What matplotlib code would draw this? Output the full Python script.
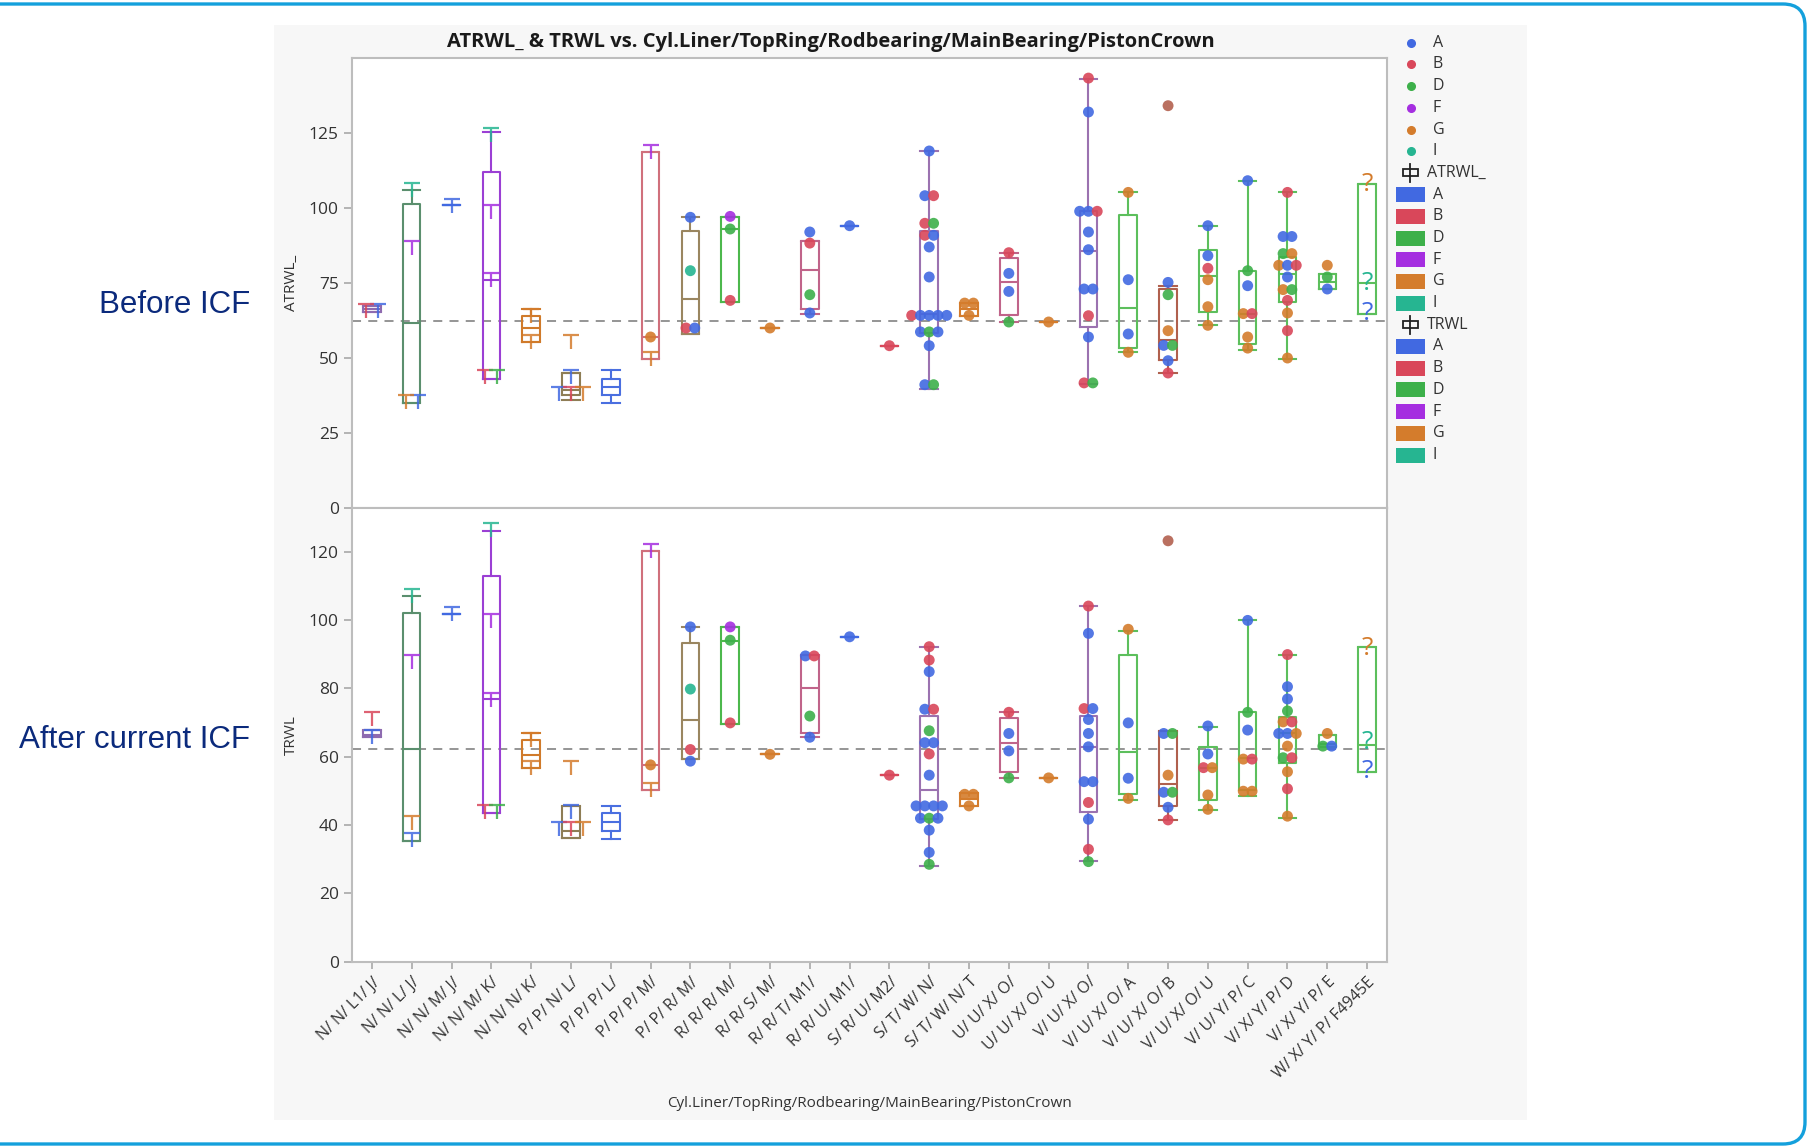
import numpy as np
import matplotlib.pyplot as plt
from collections import Counter
from matplotlib.path import Path
from matplotlib.markers import MarkerStyle
from matplotlib.patches import Rectangle, FancyBboxPatch
from matplotlib.lines import Line2D

plt.rcParams['font.family'] = ['Open Sans', 'DejaVu Sans']

cats = ["N/ N/ L1/ J/", "N/ N/ L/ J/", "N/ N/ M/ J/", "N/ N/ M/ K/", "N/ N/ N/ K/",
        "P/ P/ N/ L/", "P/ P/ P/ L/", "P/ P/ P/ M/", "P/ P/ R/ M/", "R/ R/ R/ M/",
        "R/ R/ S/ M/", "R/ R/ T/ M1/", "R/ R/ U/ M1/", "S/ R/ U/ M2/", "S/ T/ W/ N/",
        "S/ T/ W/ N/ T", "U/ U/ X/ O/", "U/ U/ X/ O/ U", "V/ U/ X/ O/", "V/ U/ X/ O/ A",
        "V/ U/ X/ O/ B", "V/ U/ X/ O/ U", "V/ U/ Y/ P/ C", "V/ X/ Y/ P/ D", "V/ X/ Y/ P/ E",
        "W/ X/ Y/ P/ F4945E"]

groups = ['A', 'B', 'D', 'F', 'G', 'I']
group_colors = {'A': '#4169e1', 'B': '#d9475a', 'D': '#3db04a', 'F': '#a52ee0',
                'G': '#d47c2c', 'I': '#26b591', 'BG': '#b3604f'}

ref_level = 62.3

# ATRWL_ box statistics per category
atrwl_q1 = [65.5, 35.0, 101.0, 43.0, 55.5, 37.8, 37.8, 49.8, 58.1, 68.7, 60.0, 66.3, 94.1,
            54.1, 58.5, 63.9, 64.2, 62.0, 60.5, 53.2, 49.4, 65.3, 54.7, 68.7, 73.0, 64.8]
atrwl_med = [66.3, 61.7, 101.0, 76.1, 60.0, 39.4, 40.5, 57.0, 69.8, 93.0, 60.0, 79.4, 94.1,
             54.1, 64.8, 66.3, 75.2, 62.0, 85.8, 66.8, 56.1, 77.4, 64.8, 78.0, 75.2, 75.0]
atrwl_q3 = [67.2, 101.3, 101.0, 111.9, 63.9, 45.0, 43.0, 118.7, 92.5, 96.9, 60.0, 88.9, 94.1,
            54.1, 92.2, 68.5, 83.3, 62.0, 98.9, 97.8, 73.0, 86.1, 78.9, 83.7, 78.0, 108.0]
atrwl_lo = [65.5, 35.0, 101.0, 43.0, 55.5, 36.1, 35.0, 49.8, 58.1, 68.7, 60.0, 64.8, 94.1,
            54.1, 39.7, 63.9, 62.0, 62.0, 41.4, 51.9, 45.0, 60.9, 52.8, 49.8, 73.0, 64.8]
atrwl_hi = [67.2, 106.1, 101.0, 125.2, 66.3, 45.0, 45.9, 118.7, 96.9, 96.9, 60.0, 88.9, 94.1,
            54.1, 118.9, 68.5, 85.0, 62.0, 143.0, 105.2, 73.9, 94.1, 109.1, 105.2, 78.0, 108.0]

# TRWL box statistics per category
trwl_q1 = [65.7, 35.4, 101.9, 43.6, 56.6, 36.3, 38.3, 50.2, 59.2, 69.5, 60.7, 67.0, 95.1,
           54.6, 41.8, 45.6, 55.4, 53.8, 43.9, 49.0, 45.7, 47.3, 50.2, 58.3, 62.7, 55.4]
trwl_med = [66.5, 62.4, 101.9, 76.8, 60.5, 38.3, 41.0, 57.6, 70.7, 93.8, 60.7, 80.2, 95.1,
            54.6, 50.4, 47.6, 63.9, 53.8, 62.7, 61.4, 52.0, 56.8, 59.5, 66.8, 63.6, 63.4]
trwl_q3 = [67.8, 102.2, 101.9, 112.9, 64.9, 45.6, 43.6, 120.2, 93.4, 98.0, 60.7, 89.9, 95.1,
           54.6, 71.9, 49.5, 71.2, 53.8, 71.9, 89.9, 67.5, 62.7, 73.0, 71.7, 66.5, 92.2]
trwl_lo = [65.7, 35.4, 101.9, 43.6, 56.6, 36.3, 35.8, 50.2, 59.2, 69.5, 60.7, 65.7, 95.1,
           54.6, 28.1, 45.6, 53.8, 53.8, 29.6, 47.3, 41.5, 44.4, 48.6, 42.2, 62.7, 55.4]
trwl_hi = [67.8, 107.0, 101.9, 126.1, 67.0, 45.6, 45.6, 120.2, 98.0, 98.0, 60.7, 89.9, 95.1,
           54.6, 92.2, 49.5, 73.0, 53.8, 104.1, 96.8, 67.5, 68.8, 99.9, 89.9, 66.5, 92.2]

box_colors = ['#8e6bb0', '#5b8f6e', '#4169e1', '#9b3fd4', '#d07a2a', '#8e7d55', '#4a6fe0',
              '#d0707c', '#9a8660', '#4cb84c', '#d47c2c', '#c0648a', '#4169e1', '#d9475a',
              '#9b72b0', '#d47c2c', '#c0648a', '#d47c2c', '#9b72b0', '#5cbf5c', '#b0604e',
              '#5cbf5c', '#5cbf5c', '#5cbf5c', '#5cbf5c', '#5cbf5c']

# individual measurements (category, value, group)
atrwl_points = [
    (7, 57.0, 'G'),
    (8, 96.9, 'A'), (8, 79.1, 'I'), (8, 60.0, 'B'), (8, 60.0, 'A'),
    (9, 97.2, 'F'), (9, 93.0, 'D'), (9, 69.2, 'B'),
    (10, 60.0, 'G'),
    (11, 92.0, 'A'), (11, 88.3, 'B'), (11, 71.1, 'D'), (11, 65.0, 'A'),
    (12, 94.1, 'A'),
    (13, 54.1, 'B'),
    (14, 119.0, 'A'), (14, 104.1, 'A'), (14, 104.1, 'B'), (14, 94.9, 'B'), (14, 94.9, 'D'),
    (14, 90.9, 'B'), (14, 90.9, 'A'), (14, 87.0, 'A'), (14, 77.0, 'A'),
    (14, 64.2, 'B'), (14, 64.2, 'A'), (14, 64.2, 'A'), (14, 64.2, 'A'), (14, 64.2, 'A'),
    (14, 58.7, 'A'), (14, 58.7, 'D'), (14, 58.7, 'A'), (14, 54.1, 'A'),
    (14, 41.1, 'A'), (14, 41.1, 'D'),
    (15, 68.3, 'G'), (15, 68.3, 'G'), (15, 64.2, 'G'),
    (16, 85.1, 'B'), (16, 78.2, 'A'), (16, 72.2, 'A'), (16, 62.0, 'D'),
    (17, 62.0, 'G'),
    (18, 143.3, 'B'), (18, 132.0, 'A'), (18, 98.9, 'A'), (18, 98.9, 'A'), (18, 98.9, 'B'),
    (18, 92.0, 'A'), (18, 86.1, 'A'), (18, 73.0, 'A'), (18, 73.0, 'A'), (18, 64.1, 'B'),
    (18, 57.0, 'A'), (18, 41.7, 'B'), (18, 41.7, 'D'),
    (19, 105.2, 'G'), (19, 76.1, 'A'), (19, 58.0, 'A'), (19, 51.9, 'G'),
    (20, 134.1, 'BG'), (20, 75.2, 'A'), (20, 71.1, 'D'), (20, 59.1, 'G'), (20, 54.2, 'A'),
    (20, 54.2, 'D'), (20, 49.1, 'A'), (20, 45.0, 'B'),
    (21, 94.1, 'A'), (21, 84.1, 'A'), (21, 79.9, 'B'), (21, 76.1, 'G'), (21, 67.1, 'G'),
    (21, 60.9, 'G'),
    (22, 109.1, 'A'), (22, 79.1, 'D'), (22, 74.1, 'A'), (22, 64.8, 'G'), (22, 64.8, 'B'),
    (22, 57.0, 'G'), (22, 53.3, 'G'),
    (23, 105.2, 'B'), (23, 90.5, 'A'), (23, 90.5, 'A'), (23, 84.8, 'D'), (23, 84.8, 'G'),
    (23, 80.9, 'G'), (23, 80.9, 'A'), (23, 80.9, 'B'), (23, 77.0, 'A'), (23, 72.8, 'G'),
    (23, 72.8, 'D'), (23, 69.2, 'B'), (23, 65.0, 'G'), (23, 59.1, 'B'), (23, 50.0, 'G'),
    (24, 80.9, 'G'), (24, 77.0, 'D'), (24, 73.0, 'A'),
]

trwl_points = [
    (7, 57.6, 'G'),
    (8, 98.0, 'A'), (8, 79.8, 'I'), (8, 62.1, 'B'), (8, 58.7, 'A'),
    (9, 98.0, 'F'), (9, 94.1, 'D'), (9, 69.9, 'B'),
    (10, 60.7, 'G'),
    (11, 89.5, 'A'), (11, 89.5, 'B'), (11, 71.9, 'D'), (11, 65.7, 'A'),
    (12, 95.1, 'A'),
    (13, 54.6, 'B'),
    (14, 92.2, 'B'), (14, 88.3, 'B'), (14, 84.9, 'A'), (14, 73.9, 'A'), (14, 73.9, 'B'),
    (14, 67.6, 'D'), (14, 64.1, 'A'), (14, 64.1, 'A'), (14, 60.8, 'B'), (14, 54.6, 'A'),
    (14, 45.6, 'A'), (14, 45.6, 'A'), (14, 45.6, 'A'), (14, 45.6, 'A'),
    (14, 42.0, 'A'), (14, 42.0, 'D'), (14, 42.0, 'A'),
    (14, 38.5, 'A'), (14, 32.0, 'A'), (14, 28.5, 'D'),
    (15, 49.0, 'G'), (15, 49.0, 'G'), (15, 45.6, 'G'),
    (16, 73.0, 'B'), (16, 66.8, 'A'), (16, 61.7, 'A'), (16, 53.8, 'D'),
    (17, 53.8, 'G'),
    (18, 104.1, 'B'), (18, 96.1, 'A'), (18, 74.1, 'B'), (18, 74.1, 'A'), (18, 70.9, 'A'),
    (18, 66.8, 'A'), (18, 62.9, 'A'), (18, 52.7, 'A'), (18, 52.7, 'A'), (18, 46.6, 'B'),
    (18, 41.7, 'A'), (18, 32.9, 'B'), (18, 29.3, 'D'),
    (19, 97.3, 'G'), (19, 69.9, 'A'), (19, 53.7, 'A'), (19, 47.8, 'G'),
    (20, 123.2, 'BG'), (20, 66.8, 'A'), (20, 66.8, 'D'), (20, 54.6, 'G'), (20, 49.6, 'A'),
    (20, 49.6, 'D'), (20, 45.2, 'A'), (20, 41.5, 'B'),
    (21, 69.0, 'A'), (21, 60.8, 'A'), (21, 56.8, 'B'), (21, 56.8, 'G'), (21, 48.8, 'G'),
    (21, 44.6, 'G'),
    (22, 99.9, 'A'), (22, 73.0, 'D'), (22, 67.8, 'A'), (22, 59.3, 'G'), (22, 59.3, 'B'),
    (22, 49.9, 'G'), (22, 49.9, 'G'),
    (23, 89.9, 'B'), (23, 80.5, 'A'), (23, 76.9, 'A'), (23, 73.4, 'D'), (23, 70.2, 'G'),
    (23, 70.2, 'B'), (23, 66.8, 'A'), (23, 66.8, 'A'), (23, 66.8, 'G'), (23, 63.1, 'G'),
    (23, 59.7, 'D'), (23, 59.7, 'B'), (23, 55.6, 'G'), (23, 50.6, 'B'), (23, 42.6, 'G'),
    (24, 66.8, 'G'), (24, 63.1, 'D'), (24, 63.1, 'A'),
]

# small per-group summaries drawn as T marks
atrwl_tees = [
    (0, 68.0, 'B'), (0, 68.0, 'A'),
    (1, 108.3, 'I'), (1, 88.9, 'F'), (1, 37.8, 'G'), (1, 37.8, 'A'),
    (2, 103.1, 'A'),
    (3, 126.7, 'I'), (3, 101.1, 'F'), (3, 78.3, 'F'), (3, 46.1, 'B'), (3, 46.1, 'D'),
    (4, 66.3, 'G'), (4, 57.8, 'G'),
    (5, 57.8, 'G'), (5, 46.1, 'A'), (5, 40.5, 'A'), (5, 40.5, 'B'), (5, 40.5, 'G'),
    (7, 121.0, 'F'), (7, 52.1, 'G'),
]
trwl_tees = [
    (0, 73.0, 'B'), (0, 67.8, 'A'),
    (1, 109.0, 'I'), (1, 89.9, 'F'), (1, 42.7, 'G'), (1, 37.6, 'A'),
    (2, 103.9, 'A'),
    (3, 128.3, 'I'), (3, 101.7, 'F'), (3, 78.7, 'F'), (3, 46.0, 'B'), (3, 46.0, 'D'),
    (4, 67.0, 'G'), (4, 58.7, 'G'),
    (5, 58.7, 'G'), (5, 46.0, 'A'), (5, 41.0, 'A'), (5, 41.0, 'B'), (5, 41.0, 'G'),
    (7, 122.2, 'F'), (7, 52.2, 'G'),
]

# unknown-coded rows in the last category
atrwl_unknown = [(25, 107.7, 'G'), (25, 75.0, 'I'), (25, 64.8, 'A')]
trwl_unknown = [(25, 91.7, 'G'), (25, 64.1, 'I'), (25, 55.6, 'A')]

tee = MarkerStyle(Path([(-1, 0), (1, 0), (0, 0), (0, -1.8)],
                       [Path.MOVETO, Path.LINETO, Path.MOVETO, Path.LINETO]))


def dodge(cat_idx, values, step):
    # spread points that share a category and value side by side
    keys = list(zip(cat_idx, values))
    counts = Counter(keys)
    seen = {}
    xs = np.array(cat_idx, dtype=float)
    for i, k in enumerate(keys):
        j = seen.get(k, 0)
        seen[k] = j + 1
        xs[i] += (j - (counts[k] - 1) / 2) * step
    return xs


def draw_panel(ax, q1, med, q3, lo, hi, points, tees, unknown, ylim, yticks, ylabel):
    stats = [dict(q1=q1[i], med=med[i], q3=q3[i], whislo=lo[i], whishi=hi[i], fliers=[])
             for i in range(len(cats))]
    art = ax.bxp(stats, positions=range(len(cats)), widths=0.44, capwidths=0.44,
                 showfliers=False, manage_ticks=False, zorder=3)
    for i, c in enumerate(box_colors):
        for a in [art['boxes'][i], art['medians'][i], art['whiskers'][2 * i],
                  art['whiskers'][2 * i + 1], art['caps'][2 * i], art['caps'][2 * i + 1]]:
            a.set_color(c)
            a.set_linewidth(1.5)

    ax.axhline(ref_level, color='#8c8c8c', ls=(0, (5, 4)), lw=1.3, zorder=2)

    pc, pv, pg = zip(*points)
    xs = dodge(pc, pv, 0.22)
    ax.scatter(xs, pv, s=62, c=[group_colors[g] for g in pg], alpha=0.9,
               edgecolors='none', zorder=4)

    tc, tv, tg = zip(*tees)
    txs = dodge(tc, tv, 0.3)
    for g in groups:
        sel = [k for k in range(len(tg)) if tg[k] == g]
        if sel:
            ax.plot(txs[sel], np.array(tv)[sel], ls='none', marker=tee, ms=20,
                    mec=group_colors[g], mew=1.6, alpha=0.85, zorder=4)

    for c, v, g in unknown:
        ax.text(c, v, '?', ha='center', va='center', fontsize=19, color=group_colors[g],
                zorder=4)

    ax.set_xlim(-0.5, len(cats) - 0.5)
    ax.set_ylim(*ylim)
    ax.set_yticks(yticks)
    ax.set_ylabel(ylabel, fontsize=11, color='#333333', labelpad=7)
    ax.tick_params(axis='y', length=6, width=1.2, color='#a8a8a8', labelsize=12.5,
                   labelcolor='#333333')
    for s in ax.spines.values():
        s.set_color('#bdbdbd')
        s.set_linewidth(1.5)


fig = plt.figure(figsize=(18.08, 11.46), dpi=100)

# rounded frame and grey graph background
fig.add_artist(FancyBboxPatch((-0.3, 0.02), 18.35, 11.4, boxstyle='round,pad=0,rounding_size=0.22',
                              transform=fig.dpi_scale_trans, fc='white', ec='#14a0dc', lw=2.4,
                              zorder=-3))
fig.add_artist(Rectangle((274 / 1808, 1 - 1120 / 1146), (1527 - 274) / 1808, (1120 - 25) / 1146,
                         transform=fig.transFigure, fc='#f7f7f7', ec='none', zorder=-2))

ax_top = fig.add_axes([352 / 1808, 1 - 508 / 1146, 1035 / 1808, 450 / 1146])
ax_bot = fig.add_axes([352 / 1808, 1 - 961.7 / 1146, 1035 / 1808, 453.7 / 1146])

draw_panel(ax_top, atrwl_q1, atrwl_med, atrwl_q3, atrwl_lo, atrwl_hi, atrwl_points,
           atrwl_tees, atrwl_unknown, (0, 150), [0, 25, 50, 75, 100, 125], 'ATRWL_')
draw_panel(ax_bot, trwl_q1, trwl_med, trwl_q3, trwl_lo, trwl_hi, trwl_points,
           trwl_tees, trwl_unknown, (0, 132.8), [0, 20, 40, 60, 80, 100, 120], 'TRWL')

ax_top.tick_params(axis='x', length=0, labelbottom=False)
ax_bot.set_xticks(range(len(cats)))
ax_bot.set_xticklabels(cats, rotation=45, ha='right', rotation_mode='anchor', fontsize=11.5,
                       color='#333333')
ax_bot.tick_params(axis='x', length=5, width=1.2, color='#a8a8a8', pad=4)
ax_bot.set_xlabel('Cyl.Liner/TopRing/Rodbearing/MainBearing/PistonCrown', fontsize=11,
                  color='#333333', labelpad=10)

fig.text(831 / 1808, 1 - 41.5 / 1146,
         'ATRWL_ & TRWL vs. Cyl.Liner/TopRing/Rodbearing/MainBearing/PistonCrown',
         ha='center', va='center', fontsize=14.5, fontweight='bold', color='#1a1a1a')

fig.text(250 / 1808, 1 - 305 / 1146, 'Before ICF', ha='right', va='center',
         fontsize=22.5, color='#0b2a7c', family='Liberation Sans')
fig.text(250 / 1808, 1 - 740 / 1146, 'After current ICF', ha='right', va='center',
         fontsize=22.5, color='#0b2a7c', family='Liberation Sans')

# legend
def fx(px):
    return px / 1808


def fy(py):
    return 1 - py / 1146


row = lambda i: 42.7 + 21.7 * i
for i, g in enumerate(groups):
    fig.add_artist(Line2D([fx(1410.7)], [fy(row(i))], marker='o', ms=5.5, color=group_colors[g],
                          transform=fig.transFigure))
    fig.text(fx(1432.7), fy(row(i)), g, va='center', fontsize=11.5, color='#333333')

for h, title in [(6, 'ATRWL_'), (13, 'TRWL')]:
    y = row(h)
    fig.add_artist(Rectangle((fx(1403), fy(y + 3.5)), 15 / 1808, 7 / 1146, fc='none', ec='#222222',
                             lw=1.3, transform=fig.transFigure))
    fig.add_artist(Line2D([fx(1410.5)] * 2, [fy(y - 9), fy(y + 9)], color='#222222', lw=1.3,
                          transform=fig.transFigure))
    fig.text(fx(1427), fy(y), title, va='center', fontsize=11.5, color='#333333')
    for k, g in enumerate(groups):
        yy = row(h + 1 + k)
        fig.add_artist(Rectangle((fx(1396), fy(yy + 7.5)), 29 / 1808, 15 / 1146,
                                 fc=group_colors[g], ec='none', transform=fig.transFigure))
        fig.text(fx(1432.7), fy(yy), g, va='center', fontsize=11.5, color='#333333')

fig.savefig('out.png', dpi=100)
